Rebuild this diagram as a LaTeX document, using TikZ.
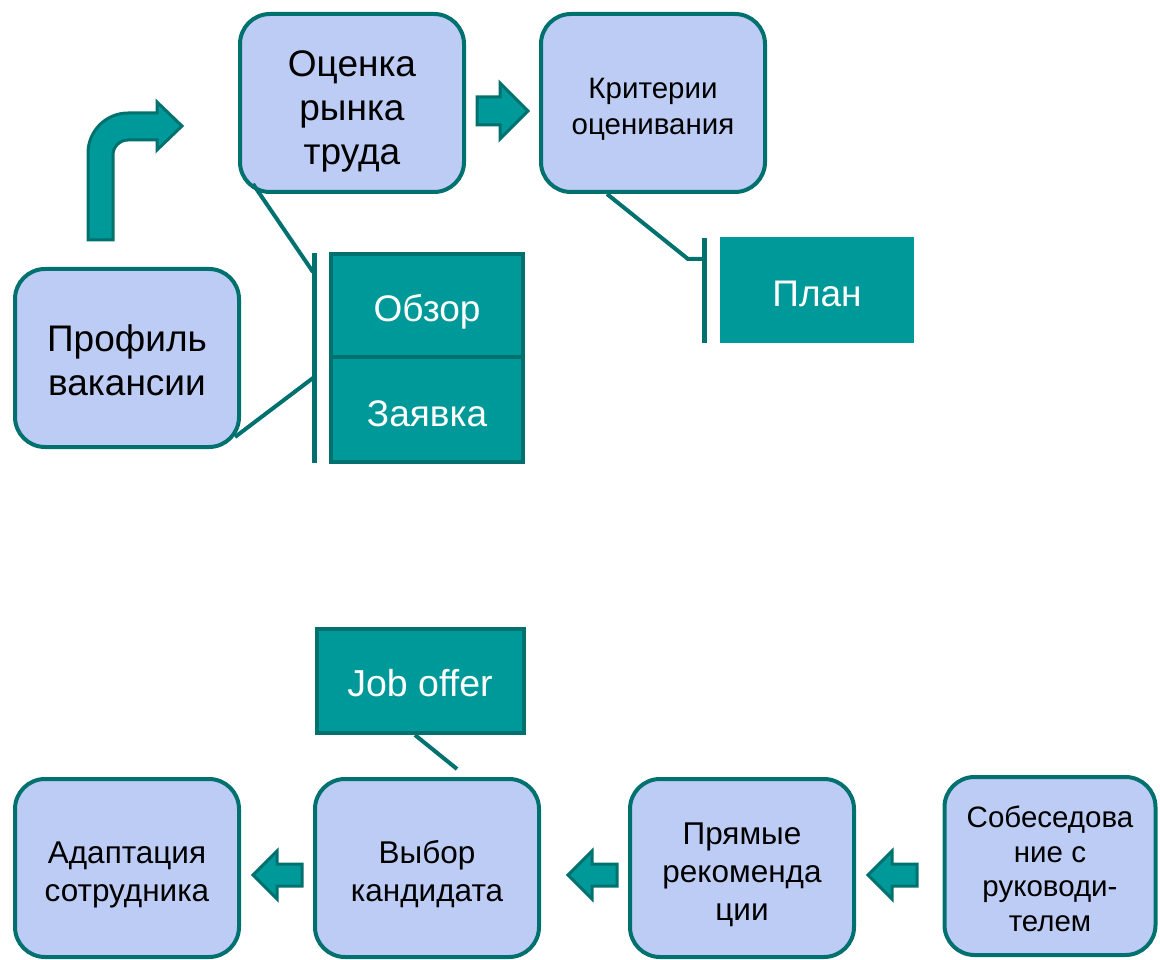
\documentclass[tikz,border=0pt]{standalone}
\usepackage{fontspec}
\setmainfont{Liberation Sans}
\definecolor{stageblue}{HTML}{BDCCF4}
\definecolor{darkteal}{HTML}{00716F}
\definecolor{tealfill}{HTML}{009999}
\newcommand{\firstline}[1]{\rule{0pt}{#1}}
\newcommand{\blockleft}[2]{\draw[blockarrow,shift={(#1,#2)}] (0,0) -- (24,-24) -- (24,-11) -- (49,-11) -- (49,11) -- (24,11) -- (24,24) -- cycle;}

\begin{document}
\begin{tikzpicture}[x=1pt,y=-1pt,
   stage/.style={draw=darkteal,line width=4pt,fill=stageblue,rounded corners=30pt,
      minimum width=224pt,minimum height=178pt,align=center,inner sep=0pt,
      font=\fontsize{37}{44}\selectfont},
   small stage/.style={stage,font=\fontsize{31.5}{38}\selectfont},
   doc/.style={draw=darkteal,line width=4pt,fill=tealfill,text=white,
      minimum width=192pt,minimum height=101pt,font=\fontsize{37}{44}\selectfont,
      text height=33pt,text depth=0pt},
   link/.style={draw=darkteal,line width=4pt},
   bracket/.style={draw=darkteal,line width=5pt},
   blockarrow/.style={fill=tealfill,draw=darkteal,line width=3pt}]
\useasboundingbox (0,0) rectangle (1160,960);
% upper row
\node[stage] (ocenka) at (352,103) {\firstline{42pt}Оценка\\рынка\\труда};
\node[stage,font=\fontsize{29.5}{36}\selectfont] (kriterii) at (653,103) {\firstline{33.5pt}Критерии\\оценивания};
\node[stage] (profil) at (127,358) {\firstline{32pt}Профиль\\вакансии};
\node[doc,minimum height=103pt] (obzor) at (427,305.5) {Обзор};
\node[doc,minimum height=105pt] (zayavka) at (427,409.5) {Заявка};
\node[doc,draw=none,minimum width=194pt,minimum height=105pt,text height=34pt] (plan) at (817,290) {План};
% brackets
\coordinate (brk1top) at (314,253);
\coordinate (brk1bot) at (314,463);
\coordinate (brk1a) at (313,272);
\coordinate (brk1b) at (313,378);
\draw[bracket] (brk1top) -- (brk1bot);
\draw[link] ([xshift=15pt,yshift=10pt]ocenka.south west) -- (brk1a);
\draw[link] ([xshift=-6pt,yshift=12pt]profil.south east) -- (brk1b);
\coordinate (brk2top) at (704,238);
\coordinate (brk2bot) at (704,343);
\coordinate (brk2a) at (704,259);
\draw[bracket] (brk2top) -- (brk2bot);
\draw[link] ([xshift=68pt]kriterii.south west) -- (688,259) -- (brk2a);
% arrows
\draw[blockarrow] (88,240) -- (88,153) .. controls (88,131) and (106,113) .. (128,113)
   -- (157,113) -- (157,102) -- (182,126) -- (157,150) -- (157,140) -- (128,140)
   .. controls (119.7,140) and (113,146.7) .. (113,155) -- (113,240) -- cycle;
\draw[blockarrow,shift={(528,111)}] (0,0) -- (-28,-28) -- (-28,-14) -- (-51,-14)
   -- (-51,14) -- (-28,14) -- (-28,28) -- cycle;
% lower row
\node[small stage] (adapt) at (127,868) {\firstline{36pt}Адаптация\\сотрудника};
\node[small stage] (vybor) at (427,868) {\firstline{36pt}Выбор\\кандидата};
\node[small stage] (pryamye) at (742,868) {\firstline{36pt}Прямые\\рекоменда\\ции};
\node[small stage,minimum width=211pt,font=\fontsize{29.5}{34.5}\selectfont] (sobes) at (1050,866) {\firstline{27.5pt}Собеседова\\ние с\\руководи-\\телем};
\node[doc,minimum width=207pt,minimum height=104pt,font=\fontsize{37.5}{44}\selectfont,text height=31pt] (joboffer) at (420,681) {Job offer};
\draw[link] ([xshift=-5pt]joboffer.south) -- ([xshift=30pt,yshift=8pt]vybor.north);
\blockleft{253}{875}
\blockleft{568}{875}
\blockleft{868}{875}
\end{tikzpicture}
\end{document}
